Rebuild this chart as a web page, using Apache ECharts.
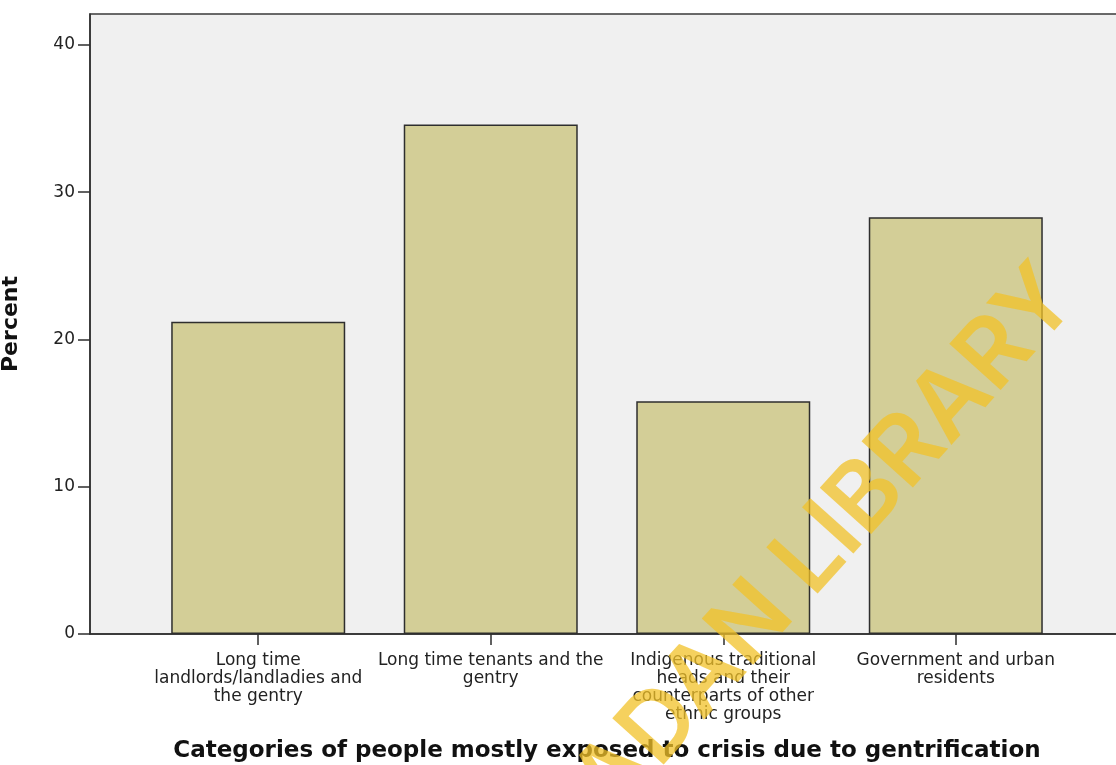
<!DOCTYPE html>
<html>
<head>
<meta charset="utf-8">
<script src="https://cdn.jsdelivr.net/npm/echarts@6/dist/echarts.min.js"></script>
<style>html,body{margin:0;padding:0;background:#fff;}#c{width:1116px;height:765px;}</style>
</head>
<body>
<div id="c"></div>
<script>
var categories = [
  "Long time\nlandlords/landladies and\nthe gentry",
  "Long time tenants and the\ngentry",
  "Indigenous traditional\nheads and their\ncounterparts of other\nethnic groups",
  "Government and urban\nresidents"
];
var percents = [21.2, 34.6, 15.8, 28.3];
var yTicks = [0, 10, 20, 30, 40];
var xTitle = "Categories of people mostly exposed to crisis due to gentrification";
var yTitle = "Percent";
var watermark = "IBADAN LIBRARY";

var idx = categories.map(function (c, i) { return i; });
var barData = percents.map(function (v, i) { return [i, v]; });

var chart = echarts.init(document.getElementById('c'), null, {renderer: 'canvas'});
chart.setOption({
  animation: false,
  backgroundColor: '#ffffff',
  grid: {
    left: 90, right: -8, top: 14, bottom: 131,
    containLabel: false,
    outerBoundsMode: 'none',
    show: true, backgroundColor: '#f0f0f0', borderColor: '#3a3a3a', borderWidth: 1.5
  },
  xAxis: {
    type: 'value',
    min: -0.7235, max: 3.7235,
    splitLine: {show: false},
    axisLine: {show: true, onZero: false, lineStyle: {color: '#2e2e2e', width: 1.5}},
    axisTick: {show: true, customValues: idx, length: 11, lineStyle: {color: '#2e2e2e', width: 1.5}},
    axisLabel: {
      customValues: idx,
      formatter: function (v) { return categories[Math.round(v)]; },
      fontFamily: 'DejaVu Sans', fontSize: 17, color: '#222', lineHeight: 18, margin: 18
    },
    name: xTitle,
    nameLocation: 'middle',
    nameGap: 106,
    nameTextStyle: {fontFamily: 'DejaVu Sans', fontWeight: 'bold', fontSize: 23, color: '#111'}
  },
  yAxis: {
    type: 'value',
    min: 0, max: 42.1,
    splitLine: {show: false},
    axisLine: {show: true, onZero: false, lineStyle: {color: '#2e2e2e', width: 1.5}},
    axisTick: {show: true, customValues: yTicks, length: 12, lineStyle: {color: '#2e2e2e', width: 1.5}},
    axisLabel: {customValues: yTicks, fontFamily: 'DejaVu Sans', fontSize: 17, color: '#222', margin: 15},
    name: yTitle,
    nameLocation: 'middle',
    nameGap: 68,
    nameTextStyle: {fontFamily: 'DejaVu Sans', fontWeight: 'bold', fontSize: 22, color: '#111'}
  },
  series: [{
    type: 'bar',
    data: barData,
    barWidth: 174,
    itemStyle: {color: '#d3ce97', borderColor: '#2e2e2e', borderWidth: 1.5}
  }],
  graphic: [{
    type: 'text',
    x: 532, y: 868,
    rotation: 0.8378,
    z: 100,
    silent: true,
    style: {
      text: watermark,
      x: 0, y: 0,
      textAlign: 'left',
      textVerticalAlign: 'middle',
      fontFamily: 'Inter',
      fontWeight: 600,
      fontSize: 95,
      fill: 'rgba(242,194,40,0.75)'
    }
  }]
});
</script>
</body>
</html>
